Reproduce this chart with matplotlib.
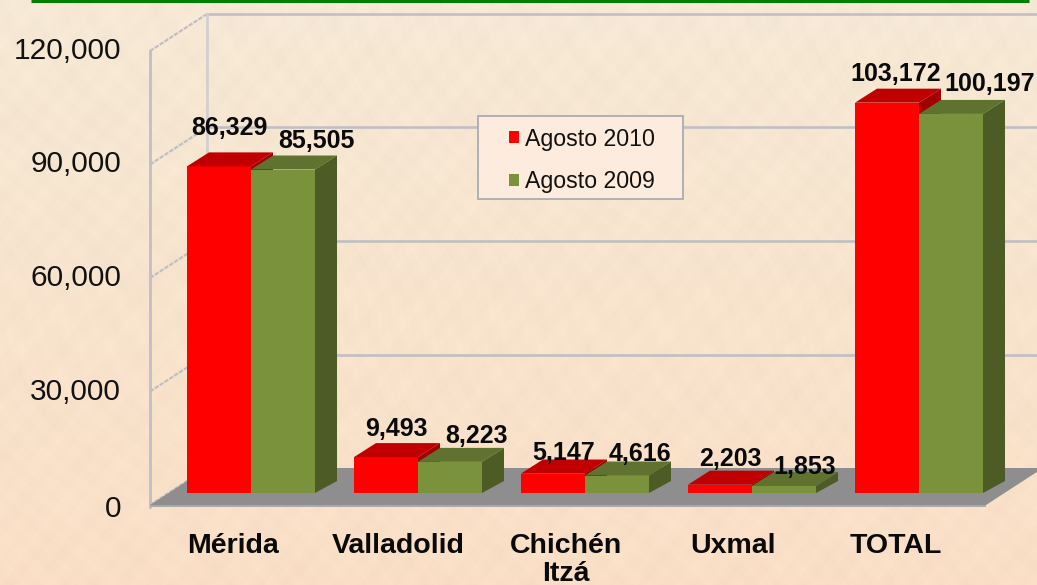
import matplotlib
matplotlib.use("Agg")
import matplotlib.pyplot as plt
from matplotlib.patches import Polygon, Patch, Rectangle
import numpy as np

plt.rcParams['font.family'] = ['Liberation Sans', 'DejaVu Sans']

# data
categorias = ["Mérida", "Valladolid", "Chichén\nItzá", "Uxmal", "TOTAL"]
agosto_2010 = [86329, 9493, 5147, 2203, 103172]
agosto_2009 = [85505, 8223, 4616, 1853, 100197]
y_ticks = [0, 30000, 60000, 90000, 120000]
series_names = ["Agosto 2010", "Agosto 2009"]

# label offsets from the front top centre of each bar, in pixels
off_2010 = [(10, 38), (10, 28), (11, 21), (10, 26), (9, 29)]
off_2009 = [(33, 29), (26, 26), (23, 22), (21, 19), (39, 30)]
off_cat = [-18, -20, -19, -19, -23]

W, H = 1037, 585
X0, CAT = 251, 167      # pixel of first category, pixels per category
Y0, TICK = 493, 113.5   # pixel of value 0, pixels per 30000
BAR = 64 / CAT


def dx(px):
    return px / CAT


def dy(px):
    return px * 30000 / TICK


fig = plt.figure(figsize=(W / 100, H / 100), dpi=100)

# parchment background, vertical gradient with soft mottling
yy, xx = np.mgrid[0:H, 0:W]
t = yy / H
warp = np.sin(xx * 0.013 + 1.3) * 9 + np.sin(yy * 0.019) * 11
mottle = (np.sin((xx + warp) * 0.23) * np.sin((yy - warp) * 0.19)
          + 0.8 * np.sin((xx - warp) * 0.071 + yy * 0.013) * np.sin((yy + warp) * 0.083)
          + 0.5 * np.sin(xx * 0.61 + warp) * np.sin(yy * 0.47 - warp))
bg = np.dstack([246 + 4 * t, 233 - 10 * t, 213 - 15 * t])
bg = np.clip(bg + mottle[..., None] * 1.6, 0, 255) / 255
fig.figimage(bg, zorder=-1)

ax = fig.add_axes([0, 0, 1, 1])
ax.set_zorder(2)
ax.patch.set_alpha(0)
ax.set_xlim(dx(-X0), dx(W - X0))
ax.set_ylim(dy(Y0 - H), dy(Y0))
ax.axis("off")

GRID = "#bfbfc4"
# wall offsets relative to bars' zero line
back_y, front_y = dy(25), dy(-12)
back_x, front_x = dx(207 - X0), dx(150 - X0)
right_x = dx(W - X0)

for v in y_ticks:
    if v > 0:
        ax.plot([back_x, right_x], [v + back_y] * 2, color=GRID, lw=1.9, zorder=1)
    ax.plot([front_x, back_x], [v + front_y, v + back_y], color=GRID, lw=1.6,
            ls=(0, (2, 0.6)), zorder=1)
    base = dy(-24) if v == 0 else dy(-20)
    ax.text(dx(121 - X0), v + base, f"{v:,}", ha="right", va="baseline",
            fontsize=21.5, color="#111111", zorder=6)
ax.plot([back_x, back_x], [back_y, 120000 + back_y], color="#cfcfd2", lw=1.9, zorder=1)
ax.plot([front_x, front_x], [dy(-14), 120000 + front_y], color=GRID, lw=2, zorder=1)

# floor
ax.add_patch(Polygon([(front_x, front_y), (back_x, back_y), (dx(1043 - X0), back_y),
                      (dx(986 - X0), front_y)], closed=True, fc="#8e8e8e", ec="none", zorder=2))
ax.add_patch(Polygon([(front_x, front_y), (dx(986 - X0), front_y), (dx(986 - X0), dy(-14)),
                      (front_x, dy(-14))], closed=True, fc="#a9a9a9", ec="none", zorder=2))


def bar3d(left, val, front, top, side, z):
    ax.bar(left, val, BAR, align="edge", color=front, zorder=z)
    r = left + BAR
    ax.add_patch(Polygon([(left, val), (left + dx(22), val + dy(14)),
                          (r + dx(22), val + dy(14)), (r, val)],
                         closed=True, fc=top, ec="none", zorder=z))
    ax.add_patch(Polygon([(r, 0), (r + dx(22), dy(12)), (r + dx(22), val + dy(14)), (r, val)],
                         closed=True, fc=side, ec="none", zorder=z))


ROJO = ("#ff0000", "#c00000", "#a00000")
VERDE = ("#79923b", "#5f7230", "#4d5c25")
for i in range(len(categorias)):
    z = 3 + i * 0.01
    bar3d(i - BAR, agosto_2010[i], *ROJO, z)
    bar3d(i, agosto_2009[i], *VERDE, z + 0.001)

for i, cat in enumerate(categorias):
    ax.annotate(f"{agosto_2010[i]:,}", (i - BAR / 2, agosto_2010[i]), xytext=off_2010[i],
                textcoords="offset pixels", ha="center", va="center",
                fontsize=18, fontweight="bold", color="#0a0a0a", zorder=7)
    ax.annotate(f"{agosto_2009[i]:,}", (i + BAR / 2, agosto_2009[i]), xytext=off_2009[i],
                textcoords="offset pixels", ha="center", va="center",
                fontsize=18, fontweight="bold", color="#0a0a0a", zorder=7)
    ax.text(i + dx(off_cat[i]), dy(Y0 - 533), cat, ha="center", va="top", fontsize=20.5,
            fontweight="bold", color="#0a0a0a", linespacing=1.1, zorder=7)

# top green rule
ax.plot([dx(31 - X0), dx(1029 - X0)], [dy(Y0 - 0.8)] * 2, color="#008000", lw=2.2,
        solid_capstyle="butt", zorder=7)

# legend box
ax.add_patch(Rectangle((dx(478 - X0), dy(Y0 - 199)), dx(205), dy(83), fc="#fdebdd",
                       ec="#b0b0b4", lw=1.4, zorder=5))
leg = ax.legend(handles=[Patch(fc=ROJO[0], label=series_names[0]),
                         Patch(fc=VERDE[0], label=series_names[1])],
                loc="center", bbox_to_anchor=(582 / W, 1 - 160.5 / H), frameon=False,
                fontsize=16.7, handlelength=0.43, handleheight=0.43, handletextpad=0.26,
                labelspacing=0.85, labelcolor="#111111")
leg.set_zorder(6)

fig.savefig("out.png", dpi=100)
